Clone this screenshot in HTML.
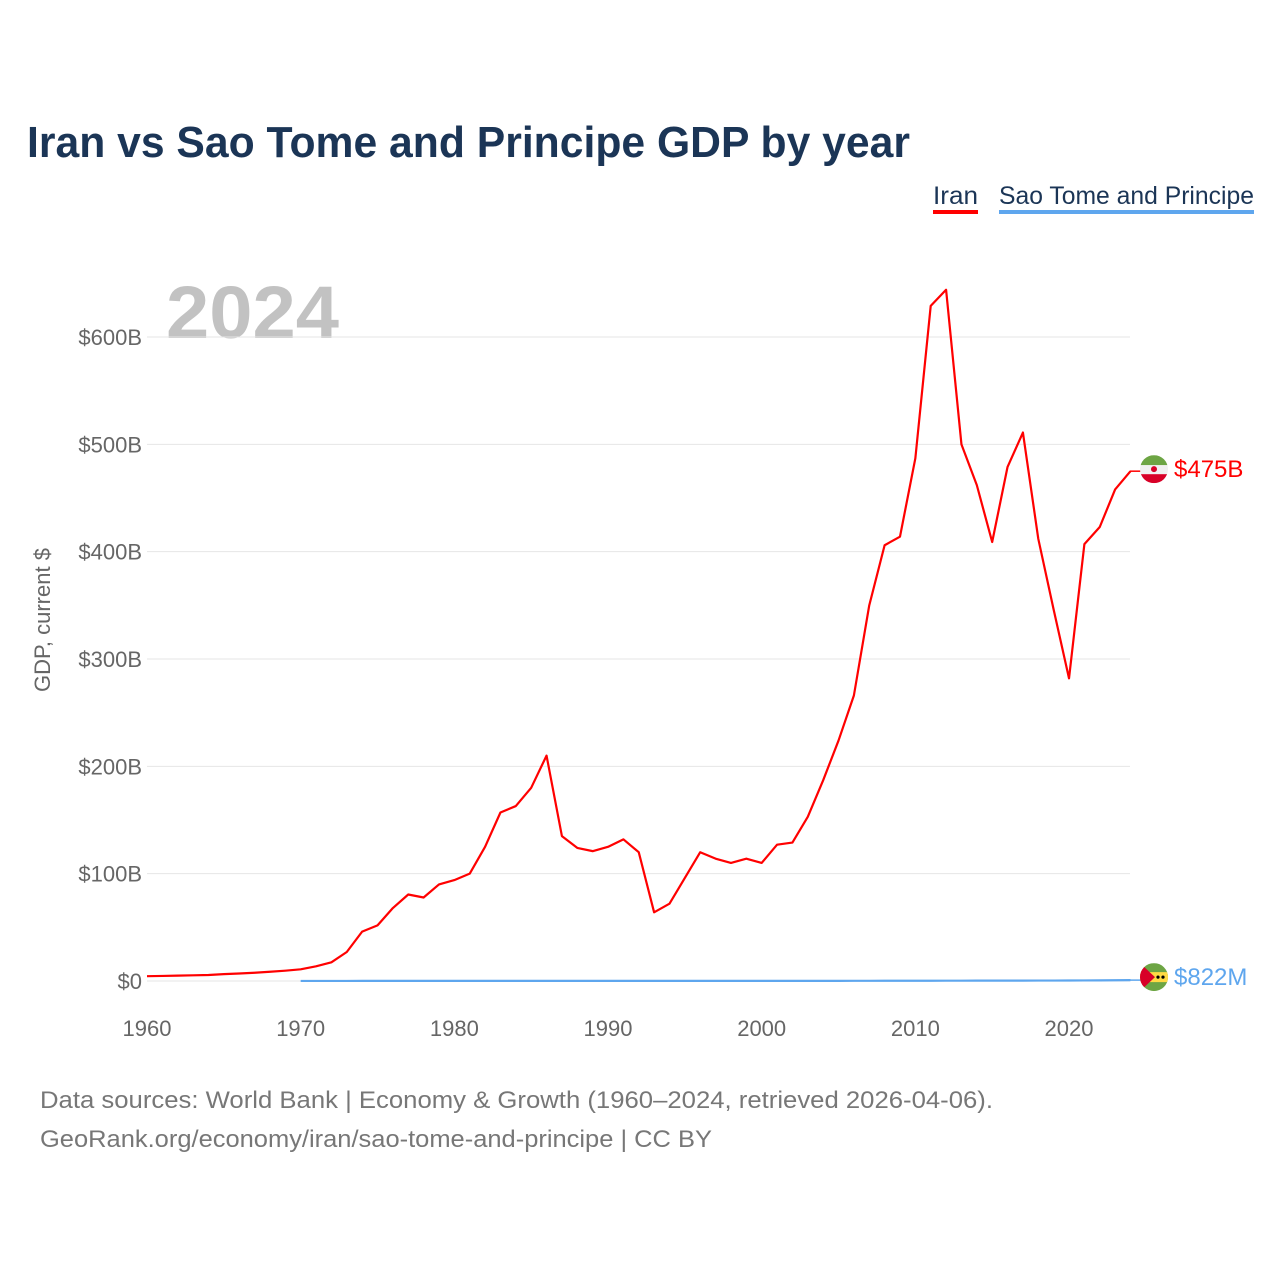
<!DOCTYPE html>
<html><head><meta charset="utf-8"><style>
body{margin:0;background:#fff;width:1280px;height:1280px;overflow:hidden;font-family:"Liberation Sans",sans-serif}
</style></head><body>
<svg width="1280" height="1280" xmlns="http://www.w3.org/2000/svg" font-family="Liberation Sans, sans-serif">
<text x="27" y="157" font-size="44" font-weight="bold" fill="#1b3556" textLength="883" lengthAdjust="spacingAndGlyphs">Iran vs Sao Tome and Principe GDP by year</text>
<g><text x="933" y="204" font-size="25" fill="#1b3556" textLength="45" lengthAdjust="spacingAndGlyphs">Iran</text><rect x="933" y="210" width="45" height="4" fill="#ff0000"/></g>
<g><text x="999" y="204" font-size="25" fill="#1b3556" textLength="255" lengthAdjust="spacingAndGlyphs">Sao Tome and Principe</text><rect x="999" y="210" width="255" height="4" fill="#5ea6ee"/></g>
<text x="166" y="338" font-size="74" font-weight="bold" fill="#c2c2c2" textLength="173" lengthAdjust="spacingAndGlyphs">2024</text>
<g id="grid"></g><g id="yt"></g><g id="xt"></g>
<text transform="translate(50,620) rotate(-90)" text-anchor="middle" font-size="22" fill="#666">GDP, current $</text>
<g id="series"></g>
<text x="40" y="1108" font-size="24" fill="#777" textLength="953" lengthAdjust="spacingAndGlyphs">Data sources: World Bank | Economy &amp; Growth (1960–2024, retrieved 2026-04-06).</text>
<text x="40" y="1147" font-size="24" fill="#777" textLength="672" lengthAdjust="spacingAndGlyphs">GeoRank.org/economy/iran/sao-tome-and-principe | CC BY</text>
</svg>
<script>
const iranYears=[];for(let y=1960;y<=2024;y++)iranYears.push(y);
const iranGdp=[4.5,4.7,5,5.3,5.6,6.4,7,7.7,8.6,9.6,10.9,13.7,17.4,27,46,51.8,68,80.6,77.8,90,94,100,125,157,163,180,210,135,124,121,125,132,120,64,72,96,120,114,110,114,110,127,129,153,187,224,266,350,406,414,487,629,644,500,462,409,479,511,412,346,282,407,423,458,475];
const stpYears=[];for(let y=1970;y<=2024;y++)stpYears.push(y);
const stpGdp=[0.05,0.06,0.07,0.08,0.09,0.1,0.1,0.1,0.1,0.12,0.13,0.13,0.13,0.12,0.11,0.11,0.12,0.11,0.1,0.1,0.12,0.11,0.12,0.13,0.13,0.13,0.14,0.12,0.12,0.13,0.12,0.12,0.13,0.14,0.15,0.14,0.16,0.17,0.2,0.2,0.2,0.25,0.27,0.31,0.35,0.32,0.35,0.38,0.41,0.43,0.47,0.53,0.55,0.68,0.822];
const yTicks=[0,100,200,300,400,500,600];
const yTickLabels=["$0","$100B","$200B","$300B","$400B","$500B","$600B"];
const xTicks=[1960,1970,1980,1990,2000,2010,2020];
const NS="http://www.w3.org/2000/svg";
const X=y=>147+(y-1960)*15.367, Y=v=>981-v*1.0733;
function mk(t,a,p){const e=document.createElementNS(NS,t);for(const k in a)e.setAttribute(k,a[k]);p.appendChild(e);return e;}
const g=document.getElementById('grid'),yt=document.getElementById('yt'),xt=document.getElementById('xt'),s=document.getElementById('series');
yTicks.forEach((v,i)=>{const l=mk('line',{x1:147,x2:1130,y1:Y(v),y2:Y(v),stroke:'#e6e6e6','stroke-width':1},g);


const t=mk('text',{x:142,y:Y(v)+8,'text-anchor':'end','font-size':22,fill:'#666'},yt);t.textContent=yTickLabels[i];

});
xTicks.forEach(v=>{const t=mk('text',{x:X(v),y:1036,'text-anchor':'middle','font-size':22,fill:'#666'},xt);t.textContent=v;

});
function line(xs,vs,c,name){const p=mk('polyline',{points:xs.map((x,i)=>X(x)+','+Y(vs[i])).join(' '),fill:'none',stroke:c,'stroke-width':2.2,'stroke-linejoin':'round'},s);

}
line(stpYears,stpGdp,'#5ea6ee','sao-tome-line');
line(iranYears,iranGdp,'#ff0000','iran-line');
function endLabel(v,c,txt,name,flag,dy){const y=Y(v);mk('line',{x1:1130,x2:1142,y1:y,y2:y,stroke:c,'stroke-width':1.5},s);
const gg=mk('g',{},s);
flag(gg,1154,y+dy);const t=mk('text',{x:1174,y:y+dy+8,'font-size':24,fill:c},gg);t.textContent=txt;}
endLabel(iranGdp[iranGdp.length-1],'#ff0000','$475B','iran-end-label',(p,cx,cy)=>{
mk('clipPath',{id:'c1'},p);mk('circle',{cx,cy,r:14},p.lastChild);
const f=mk('g',{'clip-path':'url(#c1)'},p);mk('rect',{x:cx-14,y:cy-14,width:28,height:10,fill:'#6da544'},f);mk('rect',{x:cx-14,y:cy-4,width:28,height:9,fill:'#f0f0f0'},f);mk('rect',{x:cx-14,y:cy+5,width:28,height:9,fill:'#d80027'},f);mk('circle',{cx,cy,r:3,fill:'#d80027'},f);},-2);
endLabel(stpGdp[stpGdp.length-1],'#5ea6ee','$822M','sao-tome-end-label',(p,cx,cy)=>{
mk('clipPath',{id:'c2'},p);mk('circle',{cx,cy,r:14},p.lastChild);
const f=mk('g',{'clip-path':'url(#c2)'},p);mk('rect',{x:cx-14,y:cy-14,width:28,height:28,fill:'#6da544'},f);mk('rect',{x:cx-14,y:cy-5,width:28,height:10,fill:'#ffda44'},f);mk('polygon',{points:`${cx-14},${cy-14} ${cx+1},${cy} ${cx-14},${cy+14}`,fill:'#d80027'},f);
mk('circle',{cx:cx+4,cy,r:1.6,fill:'#000'},f);mk('circle',{cx:cx+9,cy,r:1.6,fill:'#000'},f);},-3);
</script>
</body></html>
